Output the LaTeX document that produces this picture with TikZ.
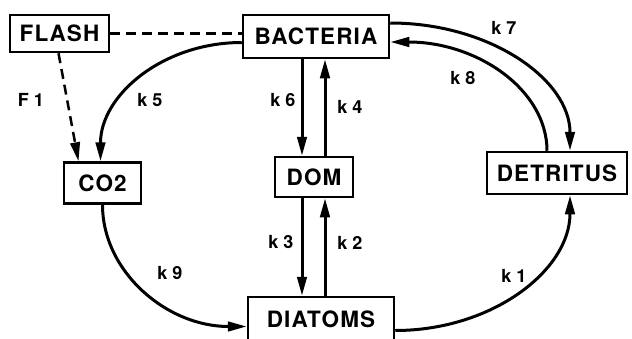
\documentclass[tikz,border=0pt]{standalone}
\usepackage{fontspec}
\setmainfont{TeX Gyre Heros}
\usetikzlibrary{arrows.meta}
\begin{document}
\begin{tikzpicture}[x=1pt,y=-1pt,
  box/.style={draw,line width=2.5pt,inner sep=0pt,font=\fontsize{22.5}{24}\selectfont\bfseries\addfontfeatures{LetterSpace=5}},
  lbl/.style={font=\fontsize{18}{20}\selectfont\bfseries,inner sep=0pt},
  flow/.style={line width=3pt,-{Triangle[length=19pt,width=9.5pt]}},
  dflow/.style={line width=2.5pt,dash pattern=on 10pt off 6pt}]
\useasboundingbox (0,0) rectangle (632,338);
\node[box,minimum width=99pt,minimum height=37pt] (flash) at (59.5,33.5) {FLASH};
\node[box,minimum width=146pt,minimum height=43pt] (bact) at (316,36.5) {BACTERIA};
\node[box,minimum width=77pt,minimum height=41pt] (co2) at (102.5,183) {CO2};
\node[box,minimum width=78pt,minimum height=40pt] (dom) at (314,177) {DOM};
\node[box,minimum width=140pt,minimum height=42pt] (det) at (557,173) {DETRITUS};
\node[box,minimum width=146pt,minimum height=44pt] (diat) at (321,319) {DIATOMS};

\draw[dflow] (flash.east) -- ([yshift=3pt]bact.west);
\draw[dflow,-{Triangle[length=19pt,width=9.5pt]}] ([xshift=-1pt]flash.south) -- ([xshift=-24pt]co2.north);

\draw[flow] ([yshift=-6pt]bact.west) .. controls +(-79,0) and +(0,-66) .. ([xshift=-2pt]co2.north);
\draw[flow] (co2.south) .. controls +(0,67) and +(-80,0) .. ([yshift=-7.5pt]diat.west);
\draw[flow] ([xshift=-14pt]bact.south) -- ([xshift=-12pt]dom.north);
\draw[flow] ([xshift=11pt]dom.north) -- ([xshift=9pt]bact.south);
\draw[flow] ([xshift=-12pt]dom.south) -- ([xshift=-19pt]diat.north);
\draw[flow] ([xshift=4pt]diat.north) -- ([xshift=11pt]dom.south);
\draw[flow] ([yshift=13.5pt]bact.east) .. controls +(100,0) and +(0,-71) .. ([xshift=13pt]det.north);
\draw[flow] ([xshift=-10pt]det.north) .. controls +(0,-61) and +(87,0) .. ([yshift=-5.5pt]bact.east);
\draw[flow] ([yshift=-11.5pt]diat.east) .. controls +(97,0) and +(0,75) .. ([xshift=13pt]det.south);

\node[lbl] (lF1) at (31,100) {F 1};
\node[lbl] (lk5) at (150,100) {k 5};
\node[lbl] (lk6) at (283,100) {k 6};
\node[lbl] (lk4) at (350,107) {k 4};
\node[lbl] (lk7) at (504,28) {k 7};
\node[lbl] (lk8) at (463,78) {k 8};
\node[lbl] (lk3) at (281,242) {k 3};
\node[lbl] (lk2) at (350,243) {k 2};
\node[lbl] (lk9) at (170,273) {k 9};
\node[lbl] (lk1) at (514,276) {k 1};
\end{tikzpicture}
\end{document}
